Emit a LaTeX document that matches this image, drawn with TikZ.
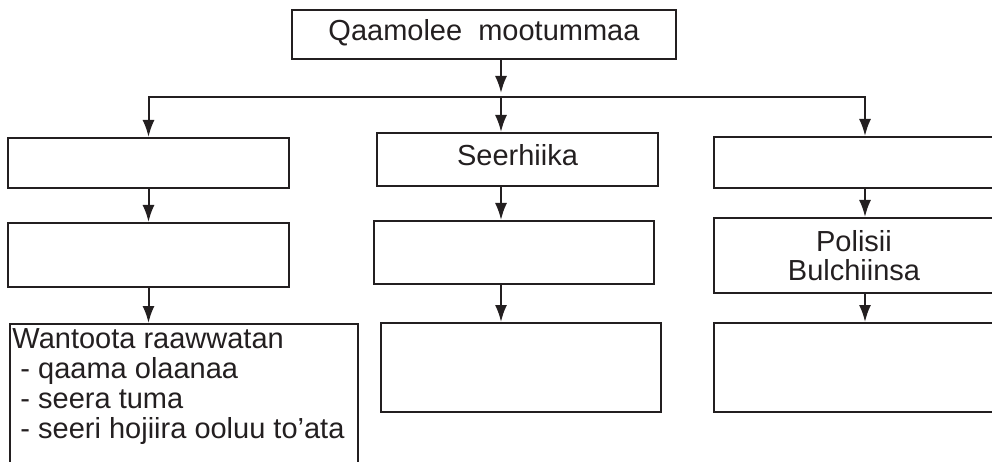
\documentclass[tikz,border=0pt]{standalone}
\usepackage{fontspec}
\setmainfont{Liberation Sans}
\usepackage{tikz}
\usetikzlibrary{arrows.meta}
\definecolor{ink}{RGB}{35,31,32}

\begin{document}
\begin{tikzpicture}[
  x=1pt, y=-1pt,
  every node/.style={font=\fontsize{29}{29.7}\selectfont, text=ink},
  box/.style={draw=ink, line width=2pt, inner sep=0pt, minimum width=280pt},
  oneline/.style={text height=20pt, text depth=7pt},
  >={Latex[length=17pt,width=12pt]},
  line width=2pt, draw=ink]
  \clip (0,0) rectangle (992,462);
  % top
  \node[box, oneline, minimum width=384pt, minimum height=49pt] (top) at (484,34.5) {Qaamolee\ \ mootummaa};
  \coordinate (fork) at (501,97);
  \coordinate (rfork) at (865,97);
  % left column
  \node[box, minimum width=281pt, minimum height=50pt] (L1) at (148.5,163) {};
  \node[box, minimum width=281pt, minimum height=64pt] (L2) at (148.5,255) {};
  \node[box, anchor=north west, inner xsep=3pt, inner ysep=5pt] (L3) at (8.5,323) {%
    \begin{minipage}[t][160pt][t]{342pt}
    Wantoota raawwatan\\
    \hspace*{8pt}- qaama olaanaa\\
    \hspace*{8pt}- seera tuma\\
    \hspace*{8pt}- seeri hojiira ooluu to'ata
    \end{minipage}};
  % middle column
  \node[box, oneline, minimum width=281pt, minimum height=53pt] (M1) at (517.5,159.5) {Seerhiika};
  \node[box, minimum height=63pt] (M2) at (514,252.5) {};
  \node[box, minimum height=89pt] (M3) at (521,367.5) {};
  % right column
  \node[box, minimum height=51pt] (R1) at (854,162.5) {};
  \node[box, minimum height=75pt, align=center] (R2) at (854,255.5) {Polisii\\Bulchiinsa};
  \node[box, minimum height=89pt] (R3) at (854,367.5) {};
  % fork
  \draw[->, shorten >=4pt] (top.south -| fork) -- (fork);
  \draw[->] (fork) -| (L1.north);
  \draw[->] (fork) -- (M1.north -| fork);
  \draw[->] (fork) -| (R1.north -| rfork);
  % chains
  \draw[->] (L1) -- (L2);
  \draw[->] (L2.south) -- (L3.north -| L2.south);
  \draw[->] (M1.south -| fork) -- (M2.north -| fork);
  \draw[->] (M2.south -| fork) -- (M3.north -| fork);
  \draw[->] (R1.south -| rfork) -- (R2.north -| rfork);
  \draw[->] (R2.south -| rfork) -- (R3.north -| rfork);
\end{tikzpicture}
\end{document}
